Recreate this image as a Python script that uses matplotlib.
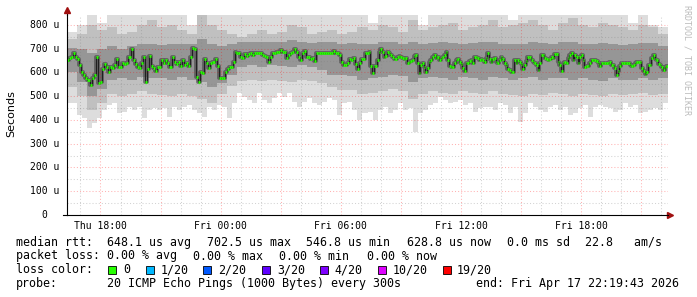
import numpy as np
import matplotlib
matplotlib.use("Agg")
import matplotlib.pyplot as plt
from matplotlib.patches import Rectangle

# eje x en horas desde el jueves 00:00, fin Fri 22:19:43
t_start = 16 + 19/60 + 43/3600
t_end = t_start + 30

# mediana (us), pasos de ~5 min, en tres tramos
seg_limits = [t_start, 24.0, 31.3, t_end]
median_thu = [653, 660, 667, 681, 667, 655, 632, 604, 590, 576, 568, 547, 576, 590, 667,
              554, 561, 613, 636, 625, 601, 625, 618, 632, 655, 625, 625, 639, 636, 639,
              667, 697, 653, 636, 625, 618, 639, 664, 561, 613, 670, 627, 618, 608, 622,
              622, 653, 639, 653, 639, 625, 667, 646, 636, 646, 627, 653, 632, 641, 627,
              667, 702, 699, 583, 561, 604, 599, 655, 639, 618, 639, 646, 655, 627, 578]
median_fri_a = [578, 578, 604, 613, 625, 625, 646, 688, 681, 681, 667, 660, 678, 670, 678,
                681, 674, 684, 684, 681, 684, 674, 670, 667, 646, 667, 684, 681, 688, 688,
                695, 688, 688, 660, 674, 681, 688, 697, 688, 667, 653, 681, 691, 667, 667,
                655, 660, 650, 681, 681, 684, 684, 681, 681, 681, 684, 681, 692, 681, 681,
                674, 646, 632, 632, 639, 655, 653, 660, 636, 613, 641, 655, 655, 681]
median_fri_b = [681, 688, 627, 597, 627, 627, 653, 688, 697, 688, 667, 670, 688, 681, 674,
                667, 655, 655, 667, 670, 667, 660, 655, 660, 641, 646, 650, 653, 670, 674,
                639, 597, 632, 639, 622, 604, 618, 646, 653, 667, 674, 660, 667, 653, 660,
                667, 674, 688, 653, 627, 625, 625, 639, 653, 655, 646, 636, 618, 608, 639,
                639, 650, 653, 639, 667, 664, 660, 653, 655, 653, 646, 660, 681, 655, 646,
                655, 660, 646, 641, 653, 667, 655, 639, 632, 613, 611, 604, 604, 653, 639,
                653, 646, 636, 613, 632, 650, 667, 667, 653, 646, 639, 632, 611, 639, 674,
                674, 660, 655, 653, 655, 667, 660, 678, 678, 646, 632, 608, 639, 646, 639,
                660, 674, 681, 653, 674, 667, 639, 667, 674, 653, 622, 627, 627, 639, 653,
                653, 653, 650, 639, 627, 639, 641, 639, 639, 639, 646, 632, 632, 618, 590,
                608, 627, 639, 641, 641, 639, 639, 632, 627, 632, 639, 646, 646, 646, 618,
                608, 594, 604, 632, 632, 660, 674, 655, 653, 636, 632, 622, 611, 625, 629]

# ping mas rapido (us), bloques de 15 min
ping_min = [470, 470, 421, 407, 365, 386, 407, 442, 463, 470, 428, 435, 456, 442, 456,
            407, 442, 449, 442, 449, 414, 456, 442, 456, 463, 442, 428, 414, 456, 442,
            463, 456, 407, 470, 512, 498, 484, 470, 512, 484, 470, 491, 512, 498, 512,
            477, 456, 477, 491, 470, 463, 477, 491, 484, 421, 470, 477, 442, 400, 428,
            435, 400, 442, 456, 428, 442, 470, 442, 449, 351, 428, 442, 463, 470, 498,
            484, 470, 477, 484, 463, 470, 435, 449, 456, 456, 442, 470, 463, 428, 456,
            393, 428, 470, 456, 442, 435, 456, 463, 442, 456, 421, 428, 449, 463, 414,
            456, 463, 456, 449, 435, 442, 470, 456, 463, 428, 435, 442, 449, 442, 470]

# resto del humo (us), bloques de 30 min
ping_max = [770, 800, 850, 810, 850, 850, 850, 850, 850, 850,
            850, 850, 800, 850, 850, 850, 850, 850, 850, 850,
            850, 850, 850, 850, 850, 850, 850, 850, 850, 850,
            810, 850, 850, 850, 850, 800, 850, 850, 850, 850,
            850, 850, 850, 850, 820, 850, 850, 850, 850, 850,
            850, 850, 850, 850, 850, 850, 810, 850, 800, 790]
hi_mid = [740, 760, 800, 780, 790, 760, 770, 800, 820, 790,
          800, 780, 760, 840, 800, 780, 760, 750, 760, 780,
          760, 770, 800, 790, 760, 770, 780, 760, 770, 790,
          780, 800, 790, 770, 820, 780, 790, 800, 810, 780,
          790, 800, 820, 790, 800, 810, 820, 800, 780, 810,
          830, 800, 790, 810, 800, 790, 780, 800, 790, 760]
hi_in = [705, 700, 680, 700, 710, 700, 710, 720, 720, 715,
         720, 720, 720, 740, 720, 710, 720, 730, 730, 730,
         730, 730, 735, 730, 725, 730, 730, 720, 725, 720,
         720, 730, 730, 720, 730, 720, 725, 730, 725, 720,
         725, 730, 730, 720, 720, 720, 730, 725, 720, 730,
         730, 720, 720, 725, 720, 715, 720, 725, 725, 710]
lo_in = [600, 560, 500, 530, 570, 575, 570, 580, 575, 575,
         570, 580, 570, 560, 540, 555, 590, 625, 630, 625,
         630, 628, 625, 630, 625, 610, 590, 590, 585, 570,
         575, 580, 590, 585, 560, 575, 580, 575, 570, 580,
         575, 570, 580, 575, 570, 575, 580, 570, 575, 575,
         570, 575, 570, 565, 575, 570, 570, 575, 570, 575]
lo_mid = [540, 500, 440, 470, 510, 500, 510, 520, 510, 505,
          500, 510, 500, 490, 470, 510, 545, 565, 570, 565,
          570, 565, 560, 570, 565, 555, 540, 525, 525, 510,
          515, 520, 530, 520, 490, 510, 520, 515, 510, 520,
          515, 510, 520, 510, 505, 500, 510, 505, 515, 510,
          500, 510, 505, 500, 510, 505, 510, 515, 505, 510]

x_ticks = [18, 24, 30, 36, 42]
x_labels = ["Thu 18:00", "Fri 00:00", "Fri 06:00", "Fri 12:00", "Fri 18:00"]
y_ticks = [0, 100, 200, 300, 400, 500, 600, 700, 800]
y_labels = ["0", "100 u", "200 u", "300 u", "400 u", "500 u", "600 u", "700 u", "800 u"]

loss_labels = ["0", "1/20", "2/20", "3/20", "4/20", "10/20", "19/20"]
loss_colors = ["#26ff00", "#00b8ff", "#0059ff", "#5e00ff", "#7e00ff", "#dd00ff", "#ff0000"]

W, H = 697, 297
fig = plt.figure(figsize=(W/100, H/100), dpi=100)
fig.patch.set_facecolor("white")
ax = fig.add_axes([67/W, 82/H, 601/W, 200/H])
ax.set_xlim(t_start, t_end)
ax.set_ylim(0, 842)

# humo
def ext(a):
    return np.r_[a, a[-1]]
t_env = t_start + 0.5*np.arange(len(ping_max) + 1)
t_fine = t_start + 0.25*np.arange(len(ping_min) + 1)
top_fine = np.repeat(ping_max, 2)
ax.fill_between(t_fine, ext(ping_min), ext(top_fine), step="post", color="#dddddd", lw=0, zorder=1)
ax.fill_between(t_env, ext(lo_mid), ext(hi_mid), step="post", color="#c0c0c0", lw=0, zorder=1.1)
ax.fill_between(t_env, ext(lo_in), ext(hi_in), step="post", color="#969696", lw=0, zorder=1.2)

# mediana
t_med, v_med = [], []
for (a, b), vals in zip(zip(seg_limits[:-1], seg_limits[1:]),
                        [median_thu, median_fri_a, median_fri_b]):
    edges = np.linspace(a, b, len(vals) + 1)
    t_med.append(edges[:-1])
    v_med.append(vals)
t_med = np.concatenate(t_med)
v_med = np.concatenate(v_med)
t_right = np.r_[t_med[1:], t_end]
ax.step(np.r_[t_med, t_end], np.r_[v_med, v_med[-1]], where="post",
        color="#404040", lw=2.8, alpha=0.6, zorder=1.5)
ax.step(np.r_[t_med, t_end], np.r_[v_med, v_med[-1]], where="post",
        color="#202020", lw=0.8, zorder=4)
ax.hlines(v_med, t_med, t_right, color=loss_colors[0], lw=2.0, zorder=5)

# grilla
dots = (0, (1, 2))
for h in range(17, 47):
    c = (1, 0, 0, 0.3) if h % 3 == 0 else (0.5, 0.5, 0.5, 0.35)
    ax.axvline(h, color=c, lw=0.75, ls=dots, zorder=3)
for v in range(50, 850, 50):
    c = (1, 0, 0, 0.3) if v % 100 == 0 else (0.5, 0.5, 0.5, 0.35)
    ax.axhline(v, color=c, lw=0.75, ls=dots, zorder=3)

for s in ["top", "right"]:
    ax.spines[s].set_visible(False)
for s in ["left", "bottom"]:
    ax.spines[s].set_linewidth(0.8)
    ax.spines[s].set_color("black")
    ax.spines[s].set_zorder(6)
ax.set_xticks(x_ticks)
ax.set_xticklabels(x_labels, family="DejaVu Sans Mono", fontsize=7)
ax.set_yticks([])
ax.tick_params(axis="x", length=0, pad=4)

for v, lab in zip(y_ticks, y_labels):
    off = -8 if lab != "0" else -20
    ax.annotate(lab, xy=(0, v), xycoords=("axes fraction", "data"),
                xytext=(off, 0), textcoords="offset pixels",
                ha="right", va="center", family="DejaVu Sans Mono", fontsize=7)

# flechas de ejes
ax.plot([0, 0], [1, 1.02], transform=ax.transAxes, color="black", lw=0.8, clip_on=False)
ax.plot([0], [1.025], transform=ax.transAxes, marker="^", color="#a01010", ms=4, clip_on=False)
ax.plot([-0.006, 0], [0, 0], transform=ax.transAxes, color="black", lw=0.8, clip_on=False)
ax.plot([1.003], [0], transform=ax.transAxes, marker=">", color="#a01010", ms=4, clip_on=False)

fig.text(11/W, 1 - 113.5/H, "Seconds", rotation=90, ha="center", va="center",
         family="DejaVu Sans", fontsize=8)
fig.text(687/W, 1 - 5/H, "RRDTOOL / TOBI OETIKER", rotation=270, ha="center", va="top",
         family="DejaVu Sans Mono", fontsize=6, color="#bbbbbb")

# leyenda
mono = dict(family="DejaVu Sans Mono", fontsize=8.35, va="baseline")
def put(x, y, s):
    fig.text(x/W, 1 - y/H, s, **mono)

put(16, 245.7, "median rtt:")
for x, s in [(107, "648.1 us avg"), (207, "702.5 us max"), (306, "546.8 us min"),
             (407, "628.8 us now"), (507, "0.0 ms sd"), (585, "22.8   am/s")]:
    put(x, 245.7, s)
put(16, 259.5, "packet loss:")
for x, s in [(107, "0.00 % avg"), (193, "0.00 % max"), (279, "0.00 % min"), (367, "0.00 % now")]:
    put(x, 259.5, s)
put(16, 273.4, "loss color:")
box_x = [108, 146, 203, 262, 320, 378, 443]
lab_x = [123, 161, 218, 277, 334, 393, 457]
for bx, lx, lab, col in zip(box_x, lab_x, loss_labels, loss_colors):
    fig.add_artist(Rectangle((bx/W, 1 - 273.5/H), 7.5/W, 7.5/H, transform=fig.transFigure,
                             facecolor=col, edgecolor="black", lw=0.6))
    put(lx, 273.4, lab)
put(16, 287.3, "probe:")
put(107, 287.3, "20 ICMP Echo Pings (1000 Bytes) every 300s")
put(476, 287.3, "end: Fri Apr 17 22:19:43 2026")

fig.savefig("out.png", dpi=100)
